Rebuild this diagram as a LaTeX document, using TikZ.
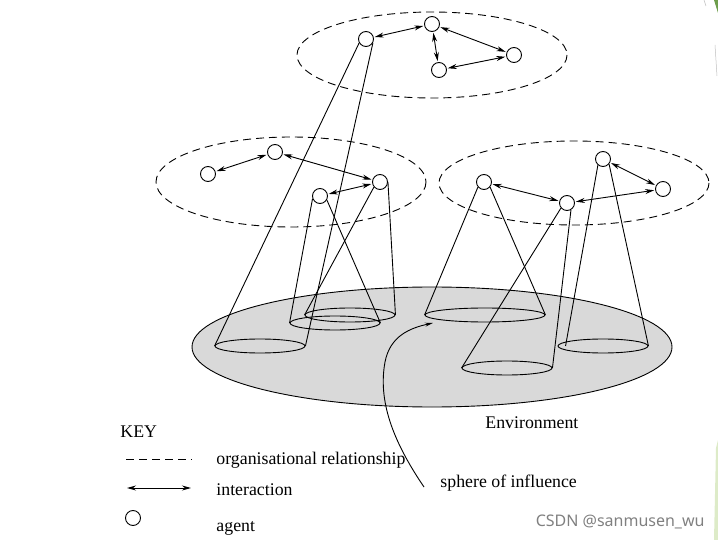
\documentclass[tikz,border=0pt]{standalone}
\usepackage{fontspec}
\setmainfont{Liberation Serif}
\newfontfamily\marksans{Noto Sans}
\usepackage{tikz}
\usetikzlibrary{arrows.meta,shapes.geometric}

\definecolor{envgray}{HTML}{D9D9D9}
\definecolor{edgegreen}{HTML}{6E9E4C}
\definecolor{palegreen}{HTML}{DDEBC8}

\tikzset{
    agent/.style={circle, draw, fill=white, minimum size=15pt, inner sep=0pt},
    sphere/.style={ellipse, draw, inner sep=0pt, minimum width=90pt, minimum height=14pt},
    org/.style={dash pattern=on 8pt off 5pt, line width=0.9pt},
    inter/.style={{Stealth[length=9pt,width=5pt]}-{Stealth[length=9pt,width=5pt]}, line width=0.9pt, shorten <=1pt, shorten >=1pt},
    cone/.style={line width=0.9pt},
    label/.style={anchor=west, inner sep=0pt, font=\fontsize{17.8}{21}\selectfont}
}

\begin{document}
\begin{tikzpicture}[x=1pt, y=-1pt, line width=0.9pt]
        \useasboundingbox (0,0) rectangle (718,540);

        % Draw the environment
        \filldraw[fill=envgray, draw=black] (432,347) ellipse [x radius=240, y radius=60];

        % Draw the organisations
        \draw[org] (432,55) ellipse [x radius=135, y radius=43];
        \draw[org] (291,182) ellipse [x radius=135, y radius=45];
        \draw[org] (574,183) ellipse [x radius=135, y radius=42];

        % Spheres of influence on the environment
        \node[sphere] (e1) at (260,346) {};
        \node[sphere] (e2) at (335,323) {};
        \node[sphere] (e3) at (350,315) {};
        \node[sphere, minimum width=120pt] (e4) at (485,315) {};
        \node[sphere] (e5) at (507,368) {};
        \node[sphere] (e6) at (603,346) {};

        % Agents of the top organisation
        \node[agent] (a1) at (366,39) {};
        \node[agent] (a2) at (432,24) {};
        \node[agent] (a3) at (439,70) {};
        \node[agent] (a4) at (514,55) {};

        % Agents of the left organisation
        \node[agent] (b1) at (208,174) {};
        \node[agent] (b2) at (275,152) {};
        \node[agent] (b3) at (380,182) {};
        \node[agent] (b4) at (320,196) {};

        % Agents of the right organisation
        \node[agent] (c1) at (484,182) {};
        \node[agent] (c2) at (567,203) {};
        \node[agent] (c3) at (603,159) {};
        \node[agent] (c4) at (663,189) {};

        % Cones from the agents down to their spheres
        \draw[cone] (a1.210) -- (e1.west);
        \draw[cone] (a1.330) -- (e1.east);
        \draw[cone] (b4.200) -- (e2.west);
        \draw[cone] (b4.330) -- (e2.east);
        \draw[cone] (b3.220) -- (e3.west);
        \draw[cone] (b3.east) -- (e3.east);
        \draw[cone] (c1.220) -- (e4.west);
        \draw[cone] (c1.320) -- (e4.east);
        \draw[cone] (c2.220) -- (e5.west);
        \draw[cone] (c2.300) -- (e5.east);
        \draw[cone] (c3.230) -- ([xshift=8pt]e6.west);
        \draw[cone] (c3.320) -- (e6.east);

        % Interactions
        \draw[inter] (a1) -- (a2);
        \draw[inter] (a2) -- (a3);
        \draw[inter] (a2) -- (a4);
        \draw[inter] (a4) -- (a3);
        \draw[inter] (b1) -- (b2);
        \draw[inter] (b2) -- (b3);
        \draw[inter] (b4) -- (b3);
        \draw[inter] (c1) -- (c2);
        \draw[inter] (c2) -- (c4);
        \draw[inter] (c3) -- (c4);

        % Labels
        \node[label] (env) at (485,423) {Environment};
        \node[label] (soi) at (440,483) {sphere of influence};
        \coordinate (soitip) at (433,323);
        \draw[-{Stealth[length=8pt,width=4pt]}] ([xshift=-16pt,yshift=-4pt]soi.west) .. controls (392,440) and (378,400) .. (385,362) .. controls (390,336) and (410,328) .. (soitip);

        % Key
        \node[label] (key) at (120,432) {KEY};
        \coordinate (k1a) at (126,459);
        \coordinate (k1b) at (192,459);
        \draw[org] (k1a) -- (k1b);
        \node[label] (korg) at (216,460) {organisational relationship};
        \coordinate (k2a) at (126,488);
        \coordinate (k2b) at (192,488);
        \draw[inter] (k2a) -- (k2b);
        \node[label] (kint) at (216,490) {interaction};
        \node[agent] (kag) at (133,518) {};
        \node[label] (kagl) at (216,528) {agent};

        % Watermark and page edge
        \node[anchor=east, inner sep=0pt, text=black!50, font=\marksans\fontsize{16}{18}\selectfont] (mark) at (705,522) {CSDN @sanmusen\_wu};
        \fill[edgegreen] (714,0) -- (718,0) -- (718,13) -- cycle;
        \fill[palegreen] (716,448) -- (718,440) -- (718,540) -- (714,540) -- cycle;
        \draw[black!25, line width=0.5pt] (704,0) -- (706,6);
        \draw[black!25, line width=0.5pt] (715,45) -- (717,76);
\end{tikzpicture}
\end{document}
